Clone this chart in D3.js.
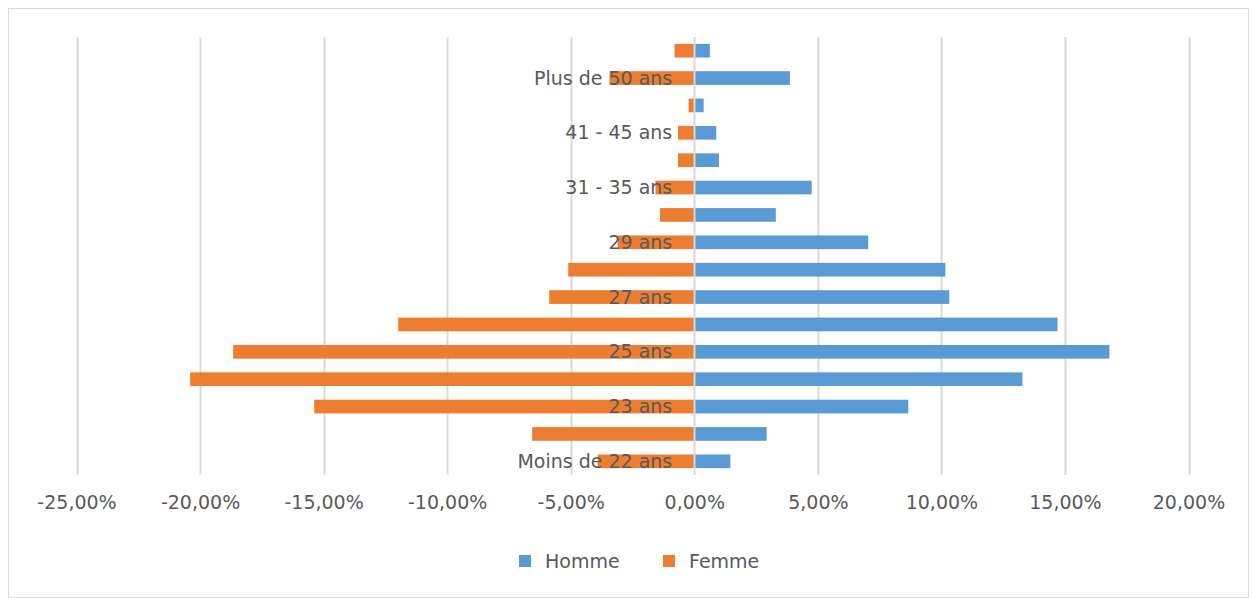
<!DOCTYPE html>
<html lang="fr">
<head>
<meta charset="UTF-8">
<title>Pyramide des âges</title>
<script src="https://cdn.jsdelivr.net/npm/d3@7"></script>
<style>
  body { margin: 0; background: #fff; }
  text { font-family: "DejaVu Sans", "Open Sans", sans-serif; fill: #595959; }
</style>
</head>
<body>
<script>
  // categories, bottom to top
  var categories = ["Moins de 22 ans", "22 ans", "23 ans", "24 ans", "25 ans", "26 ans",
    "27 ans", "28 ans", "29 ans", "30 ans", "31 - 35 ans", "36 - 40 ans",
    "41 - 45 ans", "46 - 50 ans", "Plus de 50 ans", "Non renseigné"];
  // only every other label is drawn, like the original
  var shownLabels = ["Moins de 22 ans", "23 ans", "25 ans", "27 ans", "29 ans",
    "31 - 35 ans", "41 - 45 ans", "Plus de 50 ans"];
  var homme = [1.46, 2.93, 8.66, 13.28, 16.80, 14.70, 10.32, 10.16, 7.04, 3.30,
    4.75, 1.00, 0.89, 0.38, 3.87, 0.63];
  var femme = [-3.91, -6.56, -15.38, -20.40, -18.66, -11.98, -5.87, -5.10, -3.10, -1.39,
    -1.57, -0.66, -0.66, -0.23, -3.43, -0.80];
  var ticks = [-25, -20, -15, -10, -5, 0, 5, 10, 15, 20];

  var w = 1257, h = 598;
  var plot = { left: 76.5, right: 1188.5, top: 37, bottom: 475 };

  var svg = d3.select("body").append("svg")
    .attr("width", w)
    .attr("height", h);

  // outer frame
  svg.append("rect")
    .attr("x", 8.5).attr("y", 8.5)
    .attr("width", 1240).attr("height", 589)
    .attr("fill", "none")
    .attr("stroke", "#d9d9d9");

  var x = d3.scaleLinear().domain([-25, 20]).range([plot.left, plot.right]);
  var y = d3.scaleBand().domain(categories.slice().reverse())
    .range([plot.top, plot.bottom]).paddingInner(0.5).paddingOuter(0.25);

  // gridlines
  svg.append("g").selectAll("line")
    .data(ticks.filter(function(d) { return d !== 0; }))
    .enter().append("line")
    .attr("x1", function(d) { return Math.round(x(d)) + 0.5; })
    .attr("x2", function(d) { return Math.round(x(d)) + 0.5; })
    .attr("y1", plot.top).attr("y2", plot.bottom)
    .attr("stroke", "#d9d9d9")
    .attr("stroke-width", 2);

  var fx = d3.format(".2f");
  var xAxis = d3.axisBottom(x).tickValues(ticks).tickSize(0).tickPadding(21)
    .tickFormat(function(d) { return fx(d).replace("−", "-").replace(".", ",") + "%"; });
  var gx = svg.append("g").attr("transform", "translate(0," + plot.bottom + ")").call(xAxis);
  gx.select(".domain").remove();
  gx.selectAll("text").style("font-size", "19px").attr("fill", "#595959");

  // bars
  svg.append("g").selectAll("rect")
    .data(homme)
    .enter().append("rect")
    .attr("x", x(0))
    .attr("y", function(d, i) { return y(categories[i]); })
    .attr("width", function(d) { return x(d) - x(0); })
    .attr("height", y.bandwidth())
    .attr("fill", "#5b9bd5");

  svg.append("g").selectAll("rect")
    .data(femme)
    .enter().append("rect")
    .attr("x", function(d) { return x(d); })
    .attr("y", function(d, i) { return y(categories[i]); })
    .attr("width", function(d) { return x(0) - x(d); })
    .attr("height", y.bandwidth())
    .attr("fill", "#ed7d31");

  // zero axis line
  svg.append("line")
    .attr("x1", Math.round(x(0)) + 0.5).attr("x2", Math.round(x(0)) + 0.5)
    .attr("y1", plot.top).attr("y2", plot.bottom)
    .attr("stroke", "#d9d9d9")
    .attr("stroke-width", 2);

  // category labels
  svg.append("g").selectAll("text")
    .data(shownLabels)
    .enter().append("text")
    .attr("x", x(0) - 22)
    .attr("y", function(d) { return y(d) + y.bandwidth() / 2; })
    .attr("dy", "0.35em")
    .attr("text-anchor", "end")
    .style("font-size", "19px")
    .text(function(d) { return d; });

  // legend
  var legend = [{ name: "Homme", color: "#5b9bd5", x: 519 }, { name: "Femme", color: "#ed7d31", x: 663 }];
  var lg = svg.append("g").selectAll("g").data(legend).enter().append("g")
    .attr("transform", function(d) { return "translate(" + d.x + ",561)"; });
  lg.append("rect").attr("x", 0).attr("y", -6).attr("width", 12).attr("height", 12)
    .attr("fill", function(d) { return d.color; });
  lg.append("text").attr("x", 26).attr("dy", "0.35em").style("font-size", "19px")
    .text(function(d) { return d.name; });
</script>
</body>
</html>
